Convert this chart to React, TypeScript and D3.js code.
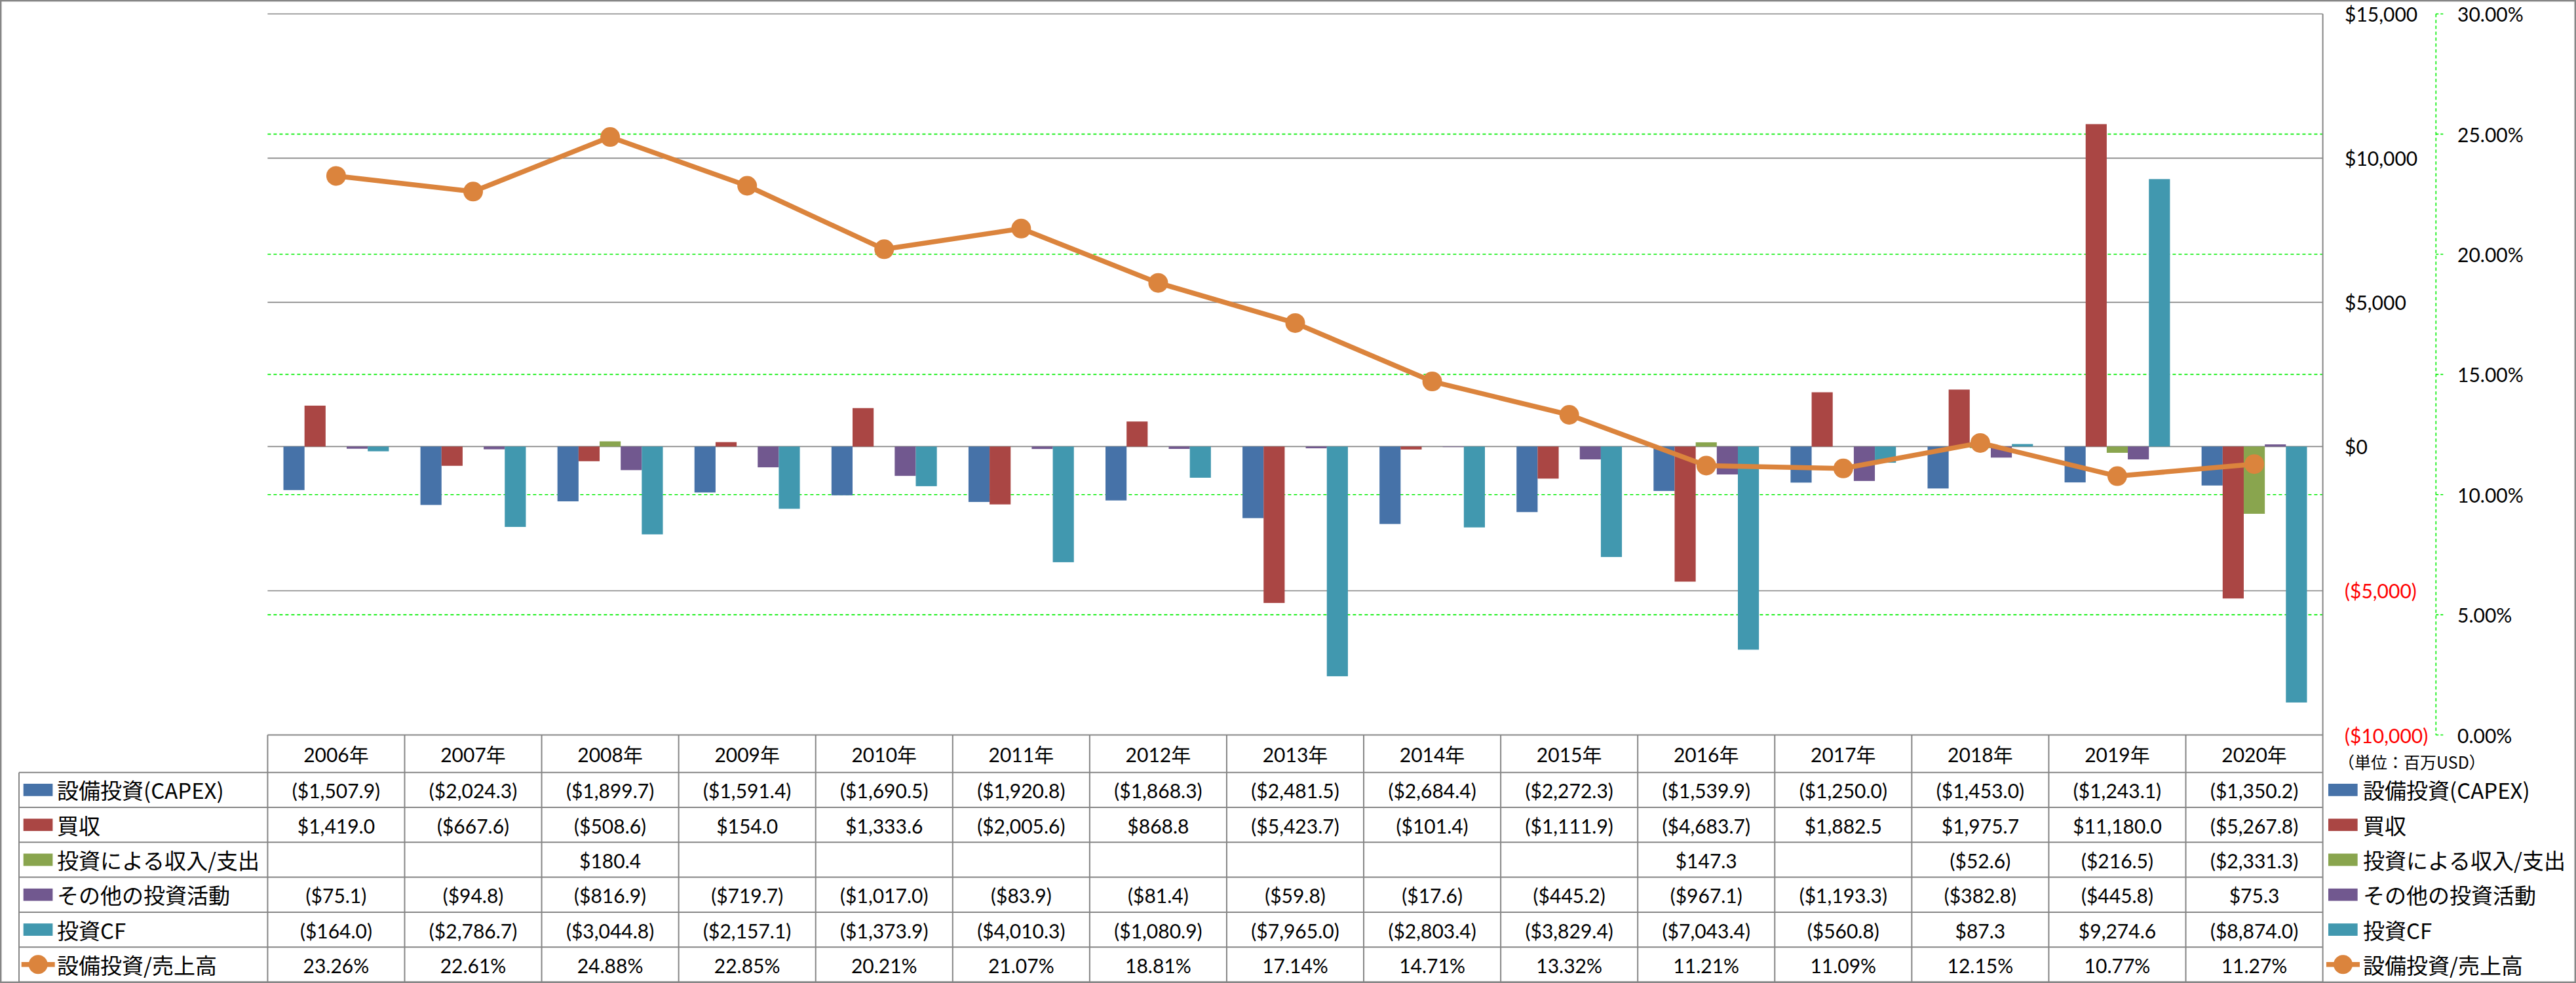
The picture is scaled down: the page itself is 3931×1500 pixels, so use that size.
import React, { useEffect } from "react";
import * as d3 from "d3";

const years = ["2006年","2007年","2008年","2009年","2010年","2011年","2012年","2013年","2014年","2015年","2016年","2017年","2018年","2019年","2020年"];
const capex = [-1507.9,-2024.3,-1899.7,-1591.4,-1690.5,-1920.8,-1868.3,-2481.5,-2684.4,-2272.3,-1539.9,-1250.0,-1453.0,-1243.1,-1350.2];
const acquisitions = [1419.0,-667.6,-508.6,154.0,1333.6,-2005.6,868.8,-5423.7,-101.4,-1111.9,-4683.7,1882.5,1975.7,11180.0,-5267.8];
const investIncome: (number | null)[] = [null,null,180.4,null,null,null,null,null,null,null,147.3,null,-52.6,-216.5,-2331.3];
const otherInvest = [-75.1,-94.8,-816.9,-719.7,-1017.0,-83.9,-81.4,-59.8,-17.6,-445.2,-967.1,-1193.3,-382.8,-445.8,75.3];
const investCF = [-164.0,-2786.7,-3044.8,-2157.1,-1373.9,-4010.3,-1080.9,-7965.0,-2803.4,-3829.4,-7043.4,-560.8,87.3,9274.6,-8874.0];
const capexRatio = [23.26,22.61,24.88,22.85,20.21,21.07,18.81,17.14,14.71,13.32,11.21,11.09,12.15,10.77,11.27];

const barNames = ["設備投資(CAPEX)","買収","投資による収入/支出","その他の投資活動","投資CF"];
const lineName = "設備投資/売上高";
const barColors = ["#4672A8","#AA4644","#89A54E","#71588F","#4198AF"];
const lineColor = "#DB843D";
const leftTicks = [15000,10000,5000,0,-5000,-10000];
const rightTicks = [0.30,0.25,0.20,0.15,0.10,0.05,0];
const unitLabel = "（単位：百万USD）";

const W = 3931, H = 1500;
const plotL = 408.4, plotR = 3544.6, plotT = 21.3, plotB = 1121.5;
const tableTop = 1121.5, headerH = 57.2, rowH = 53.3, tableLeft = 29;
const gridGray = "#868686";
const numFont = "Lato, 'Noto Sans CJK JP', sans-serif";
const jpFont = "'Noto Sans CJK JP', sans-serif";

const fmtNum = d3.format(",.1f");
const fmtVal = (v: number | null) => v == null ? "" : v < 0 ? `($${fmtNum(-v)})` : `$${fmtNum(v)}`;
const fmtAxis = (v: number) => v < 0 ? `($${d3.format(",")(-v)})` : `$${d3.format(",")(v)}`;

export default function App() {
  useEffect(() => { document.body.style.margin = "0"; }, []);
  const seriesData = [capex, acquisitions, investIncome, otherInvest, investCF];
  const x = d3.scaleBand<string>().domain(years).range([plotL, plotR]).padding(0);
  const xs = d3.scaleBand<number>().domain(d3.range(5)).range([0, x.bandwidth()]).paddingInner(0).paddingOuter(0.75);
  const yL = d3.scaleLinear().domain([-10000, 15000]).range([plotB, plotT]);
  const yR = d3.scaleLinear().domain([0, 0.30]).range([plotB, plotT]);
  const line = d3.line<number>().x((_, i) => (x(years[i]) as number) + x.bandwidth() / 2).y(d => yR(d / 100));

  const rows = [...barNames, lineName];
  const rowVals: string[][] = [
    ...seriesData.map(s => s.map(v => fmtVal(v))),
    capexRatio.map(v => `${v.toFixed(2)}%`),
  ];
  const dataTop = tableTop + headerH;
  const tableBottom = dataTop + rowH * rows.length;
  const axisX = 3717.3;

  const keyIcon = (i: number, cx0: number, cy: number) => {
    if (i < 5) return <rect x={cx0} y={cy - 9.4} width={44.7} height={18.8} fill={barColors[i]} />;
    return (
      <g>
        <line x1={cx0 - 3} x2={cx0 + 48} y1={cy} y2={cy} stroke={lineColor} strokeWidth={7.5} />
        <circle cx={cx0 + 22.5} cy={cy} r={14.5} fill={lineColor} />
      </g>
    );
  };

  return (
    <svg width={W} height={H} style={{ position: "absolute", left: 0, top: 0, background: "#fff" }}>
      <rect x={0} y={0} width={W} height={H} fill="#fff" />
      {leftTicks.filter(t => t > -10000).map(t => (
        <line key={"g" + t} x1={plotL} x2={plotR} y1={yL(t)} y2={yL(t)} stroke={gridGray} strokeWidth={1.6} />
      ))}
      {rightTicks.filter(t => t > 0 && t < 0.3).map(t => (
        <line key={"s" + t} x1={plotL} x2={plotR} y1={yR(t)} y2={yR(t)} stroke="#00EE00" strokeWidth={1.6} strokeDasharray="5,4" />
      ))}
      {seriesData.map((s, si) => (
        <g key={"bs" + si}>
          {s.map((v, i) => v == null ? null : (
            <rect key={i}
              x={(x(years[i]) as number) + (xs(si) as number)}
              width={xs.bandwidth()}
              y={Math.min(yL(v), yL(0))}
              height={Math.abs(yL(v) - yL(0))}
              fill={barColors[si]} />
          ))}
        </g>
      ))}
      <path d={line(capexRatio) || ""} fill="none" stroke={lineColor} strokeWidth={7.5} strokeLinejoin="round" />
      {capexRatio.map((v, i) => (
        <circle key={"m" + i} cx={(x(years[i]) as number) + x.bandwidth() / 2} cy={yR(v / 100)} r={15} fill={lineColor} />
      ))}
      <line x1={plotR} x2={plotR} y1={plotT} y2={tableBottom} stroke={gridGray} strokeWidth={2} />
      {leftTicks.map(t => (
        <text key={"lt" + t} x={3578} y={yL(t)} dominantBaseline="central" fontFamily={numFont} fontSize={30}
          fill={t < 0 ? "#FF0000" : "#000"}>{fmtAxis(t)}</text>
      ))}
      <line x1={axisX} x2={axisX} y1={plotT} y2={plotB} stroke="#00EE00" strokeWidth={1.6} strokeDasharray="5,4" />
      {rightTicks.map(t => (
        <g key={"rt" + t}>
          <line x1={axisX} x2={axisX + 11} y1={yR(t)} y2={yR(t)} stroke="#00EE00" strokeWidth={1.6} strokeDasharray="4,3" />
          <text x={3750} y={yR(t)} dominantBaseline="central" fontFamily={numFont} fontSize={30} fill="#000">{(t * 100).toFixed(2)}%</text>
        </g>
      ))}
      <text x={3568} y={1162} dominantBaseline="central" fontFamily={jpFont} fontSize={25} fill="#000">{unitLabel}</text>
      <g stroke={gridGray} strokeWidth={2}>
        <line x1={plotL} x2={plotR} y1={tableTop} y2={tableTop} />
        {d3.range(rows.length + 1).map(r => (
          <line key={"hr" + r} x1={tableLeft} x2={plotR} y1={dataTop + r * rowH} y2={dataTop + r * rowH} />
        ))}
        <line x1={tableLeft} x2={tableLeft} y1={dataTop} y2={tableBottom} />
        {years.map(yv => (
          <line key={"vl" + yv} x1={x(yv) as number} x2={x(yv) as number} y1={tableTop} y2={tableBottom} />
        ))}
      </g>
      {years.map(yv => (
        <text key={"hd" + yv} x={(x(yv) as number) + x.bandwidth() / 2} y={tableTop + headerH / 2 + 1} textAnchor="middle"
          dominantBaseline="central" fontFamily={numFont} fontSize={30} fill="#000">{yv}</text>
      ))}
      {rows.map((name, r) => {
        const cy = dataTop + r * rowH + rowH / 2;
        return (
          <g key={"row" + r}>
            {keyIcon(r, 35.7, cy)}
            <text x={87} y={cy} dominantBaseline="central" fontFamily={jpFont} fontSize={33} fill="#000">{name}</text>
            {rowVals[r].map((s, i) => (
              <text key={i} x={(x(years[i]) as number) + x.bandwidth() / 2} y={cy + 1} textAnchor="middle"
                dominantBaseline="central" fontFamily={numFont} fontSize={30} fill="#000">{s}</text>
            ))}
            {keyIcon(r, 3553, cy)}
            <text x={3606} y={cy} dominantBaseline="central" fontFamily={jpFont} fontSize={33} fill="#000">{name}</text>
          </g>
        );
      })}
      <rect x={1.2} y={1.2} width={W - 2.4} height={H - 2.4} fill="none" stroke={gridGray} strokeWidth={2.4} />
    </svg>
  );
}
